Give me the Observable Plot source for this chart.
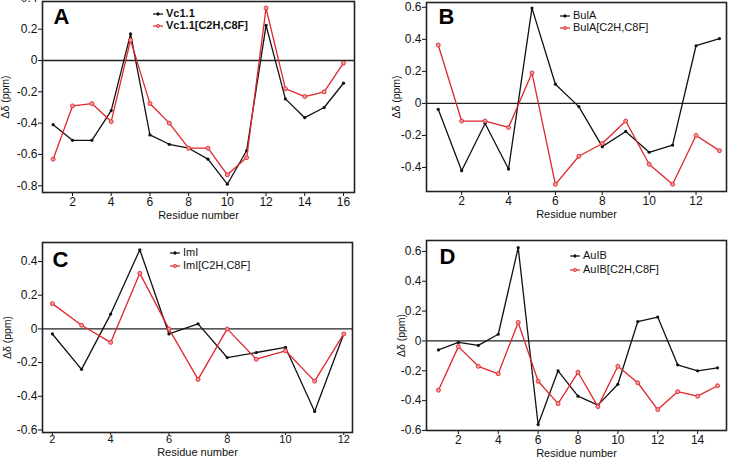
<!DOCTYPE html>
<html>
<head>
<meta charset="utf-8">
<script src="https://cdn.jsdelivr.net/npm/d3@7"></script>
<script src="https://cdn.jsdelivr.net/npm/@observablehq/plot@0.6"></script>
<style>
  html, body { margin: 0; padding: 0; background: #fff; }
  #wrap { position: relative; width: 729px; height: 457px; overflow: hidden; font-family: "Liberation Sans", Arial, sans-serif; }
  #wrap svg.plot { position: absolute; }
  .leg { position: absolute; font-size: 11px; color: #111; white-space: nowrap; line-height: 12px; }
  .leg svg { vertical-align: middle; margin-right: 3px; }
</style>
</head>
<body>
<div id="wrap"></div>
<script>
// ---- Data ----
// Panel A
const residuesA = [1,2,3,4,5,6,7,8,9,10,11,12,13,14,15,16];
const vc11 = [-0.41,-0.51,-0.51,-0.32,0.17,-0.475,-0.535,-0.56,-0.63,-0.79,-0.575,0.225,-0.245,-0.365,-0.30,-0.145];
const vc11Mut = [-0.63,-0.29,-0.275,-0.39,0.13,-0.275,-0.40,-0.56,-0.56,-0.73,-0.62,0.335,-0.18,-0.23,-0.20,-0.017];
// Panel B
const residuesB = [1,2,3,4,5,6,7,8,9,10,11,12,13];
const bulA = [-0.037,-0.42,-0.125,-0.41,0.595,0.12,-0.02,-0.27,-0.175,-0.305,-0.26,0.36,0.405];
const bulAMut = [0.365,-0.11,-0.11,-0.15,0.19,-0.505,-0.33,-0.25,-0.11,-0.38,-0.505,-0.20,-0.295];
// Panel C
const residuesC = [2,3,4,5,6,7,8,9,10,11,12];
const iml = [-0.03,-0.24,0.088,0.47,-0.03,0.03,-0.17,-0.14,-0.11,-0.49,-0.03];
const imlMut = [0.15,0.022,-0.08,0.33,0.0,-0.30,0.0,-0.18,-0.13,-0.31,-0.03];
// Panel D
const residuesD = [1,2,3,4,5,6,7,8,9,10,11,12,13,14,15];
const auIB = [-0.06,-0.01,-0.03,0.045,0.625,-0.56,-0.20,-0.37,-0.43,-0.29,0.13,0.16,-0.16,-0.20,-0.18];
const auIBMut = [-0.33,-0.038,-0.17,-0.22,0.124,-0.27,-0.42,-0.21,-0.44,-0.17,-0.28,-0.46,-0.34,-0.37,-0.30];

const ticksA = [2,4,6,8,10,12,14,16];
const ticksB = [2,4,6,8,10,12];
const ticksC = [2,4,6,8,10,12];
const ticksD = [2,4,6,8,10,12,14];
const yTicksA = [-0.8,-0.6,-0.4,-0.2,0,0.2,0.4];
const yTicksB = [-0.4,-0.2,0,0.2,0.4,0.6];
const yTicksC = [-0.6,-0.4,-0.2,0,0.2,0.4];
const yTicksD = [-0.6,-0.4,-0.2,0,0.2,0.4,0.6];

const xLabel = "Residue number";
const yLabel = "Δδ (ppm)";
const BLACK = "#111111";
const RED = "#e0262b";

const fmt = d => d === 0 ? "0" : d.toFixed(1);

const wrap = document.getElementById("wrap");

function panel(o) {
  const d1 = o.xs.map((x, i) => ({x, y: o.v1[i]}));
  const d2 = o.xs.map((x, i) => ({x, y: o.v2[i]}));
  const p = Plot.plot({
    width: o.w, height: o.h,
    marginTop: o.mt, marginRight: o.mr, marginBottom: o.mb, marginLeft: o.ml,
    style: {fontFamily: '"Liberation Sans", Arial, sans-serif', color: "#111", background: "transparent", overflow: "visible"},
    x: {domain: o.xd},
    y: {domain: o.yd},
    marks: [
      Plot.axisX(o.xt, {tickSize: o.xts ?? 4, tickPadding: o.xtp ?? 1, fontSize: o.xfs ?? 12, label: null}),
      Plot.axisX([], {tickSize: 0, fontSize: 11, label: xLabel, labelAnchor: "center", labelArrow: "none", labelOffset: o.xlo}),
      Plot.axisY(o.yt, {tickSize: 4, tickPadding: 1, fontSize: 12, tickFormat: fmt, label: null}),
      Plot.axisY([], {tickSize: 0, fontSize: 10.5, label: yLabel, labelAnchor: "center", labelArrow: "none", labelOffset: o.ylo}),
      Plot.ruleY([0], {stroke: "#222", strokeWidth: 1.3}),
      Plot.line(d1, {x: "x", y: "y", stroke: BLACK, strokeWidth: 1.3}),
      Plot.dot(d1, {x: "x", y: "y", r: 1.6, fill: BLACK, stroke: "none"}),
      Plot.line(d2, {x: "x", y: "y", stroke: RED, strokeWidth: 1.3}),
      Plot.dot(d2, {x: "x", y: "y", r: 2, fill: "#f19a9a", stroke: RED, strokeWidth: 0.9}),
      Plot.frame({stroke: "#222", strokeWidth: 1.6}),
      Plot.text([o.letter], {frameAnchor: "top-left", textAnchor: "start", lineAnchor: "middle", dx: o.ldx, dy: o.ldy, fontSize: 22, fontWeight: "bold", fill: "#000"})
    ]
  });
  p.classList.add("plot");
  p.style.left = o.left + "px";
  p.style.top = o.top + "px";
  wrap.appendChild(p);

  // legend
  const leg = document.createElement("div");
  leg.className = "leg";
  leg.style.left = o.legX + "px";
  leg.style.top = o.legY + "px";
  if (o.bold) leg.style.fontWeight = "bold";
  const sym = (c, red) => `<svg width="10" height="6"><line x1="0" y1="3" x2="10" y2="3" stroke="${c}" stroke-width="1.2"/><circle cx="5" cy="3" r="${red ? 1.6 : 1.3}" fill="${red ? '#f19a9a' : c}" stroke="${c}" stroke-width="0.8"/></svg>`;
  leg.innerHTML = `<div style="height:${o.legGap}px">${sym(BLACK, false)}${o.n1}</div><div>${sym(RED, true)}${o.n2}</div>`;
  wrap.appendChild(leg);
}

panel({left: 0, top: 0, w: 364, h: 228, mt: 1, mr: 10, mb: 36, ml: 42,
  xd: [0.45, 16.57], yd: [-0.843, 0.377], xt: ticksA, yt: yTicksA,
  xs: residuesA, v1: vc11, v2: vc11Mut, letter: "A", ldx: 11, ldy: 15,
  xlo: 26, ylo: 41, legX: 153, legY: 7, legGap: 12, bold: true, n1: "Vc1.1", n2: "Vc1.1[C2H,C8F]"});

panel({left: 364, top: 0, w: 365, h: 228, mt: 2, mr: 3, mb: 37, ml: 62,
  xd: [0.5, 13.3], yd: [-0.55, 0.63], xt: ticksB, yt: yTicksB,
  xs: residuesB, v1: bulA, v2: bulAMut, letter: "B", ldx: 12, ldy: 14,
  xlo: 26, ylo: 34, legX: 560, legY: 9, legGap: 12, bold: false, n1: "BulA", n2: "BulA[C2H,C8F]"});

panel({left: 0, top: 228, w: 364, h: 229, mt: 14, mr: 12, mb: 25, ml: 42,
  xd: [1.66, 12.3], yd: [-0.615, 0.513], xt: ticksC, yt: yTicksC,
  xs: residuesC, v1: iml, v2: imlMut, letter: "C", ldx: 10, ldy: 17,
  xts: 3, xtp: 0, xfs: 11,
  xlo: 23.5, ylo: 39, legX: 170, legY: 246, legGap: 13, bold: false, n1: "ImI", n2: "ImI[C2H,C8F]"});

panel({left: 364, top: 228, w: 365, h: 229, mt: 12, mr: 3, mb: 27, ml: 62,
  xd: [0.4, 15.45], yd: [-0.60, 0.673], xt: ticksD, yt: yTicksD,
  xs: residuesD, v1: auIB, v2: auIBMut, letter: "D", ldx: 13, ldy: 16,
  xlo: 26, ylo: 29, legX: 570, legY: 249, legGap: 14, bold: false, n1: "AuIB", n2: "AuIB[C2H,C8F]"});
</script>
</body>
</html>
